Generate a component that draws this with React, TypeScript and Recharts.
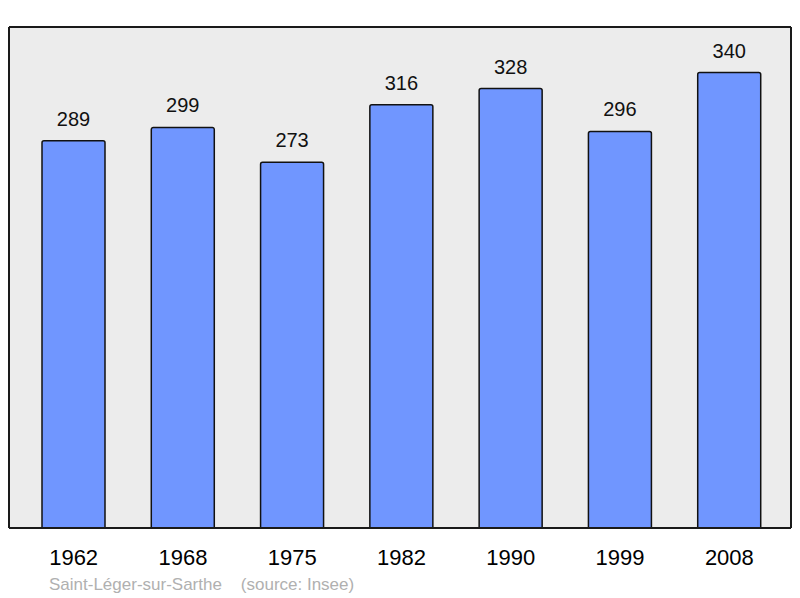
import React from "react";
import { BarChart, Bar, XAxis, YAxis, CartesianGrid, LabelList } from "recharts";

const years = ["1962", "1968", "1975", "1982", "1990", "1999", "2008"];
const population = [289, 299, 273, 316, 328, 296, 340];
const caption = "Saint-Léger-sur-Sarthe\u00a0\u00a0\u00a0\u00a0(source: Insee)";

const data = years.map((y, i) => ({ year: y, value: population[i] }));

const FONT = "'Liberation Sans', Arial, sans-serif";
const FRAME = { stroke: "#1a1a1a", strokeWidth: 2 };

export default function App() {
  return (
    <div style={{ position: "absolute", left: 0, top: 0, width: 800, height: 598, background: "#fff" }}>
      <BarChart
        width={800}
        height={598}
        data={data}
        margin={{ top: 26, right: 8, bottom: 30, left: 8 }}
        barSize={63}
      >
        <CartesianGrid fill="#ececec" stroke="none" horizontal={false} vertical={false} />
        <XAxis
          dataKey="year"
          xAxisId="bottom"
          height={40}
          padding={{ left: 10, right: 7 }}
          axisLine={FRAME}
          tickLine={false}
          tickSize={0}
          tickMargin={21}
          interval={0}
          tick={{ fontSize: 22, fill: "#000", fontFamily: FONT }}
        />
        <XAxis
          dataKey="year"
          xAxisId="top"
          orientation="top"
          height={1}
          padding={{ left: 10, right: 7 }}
          axisLine={FRAME}
          tickLine={false}
          tick={false}
        />
        <YAxis
          yAxisId="left"
          width={1}
          domain={[0, 374]}
          axisLine={FRAME}
          tickLine={false}
          tick={false}
        />
        <YAxis
          yAxisId="right"
          orientation="right"
          width={1}
          domain={[0, 374]}
          axisLine={FRAME}
          tickLine={false}
          tick={false}
        />
        <Bar
          dataKey="value"
          xAxisId="bottom"
          yAxisId="left"
          fill="#7096ff"
          stroke="#111"
          strokeWidth={1.5}
          radius={[2, 2, 0, 0]}
          isAnimationActive={false}
        >
          <LabelList
            dataKey="value"
            position="top"
            offset={15}
            style={{ fontSize: 20, fill: "#111", fontFamily: FONT }}
          />
        </Bar>
      </BarChart>
      <div
        style={{
          position: "absolute",
          left: 49,
          top: 576,
          fontSize: 17,
          lineHeight: "17px",
          color: "#b0b0b0",
          fontFamily: FONT,
          whiteSpace: "pre",
        }}
      >
        {caption}
      </div>
    </div>
  );
}
